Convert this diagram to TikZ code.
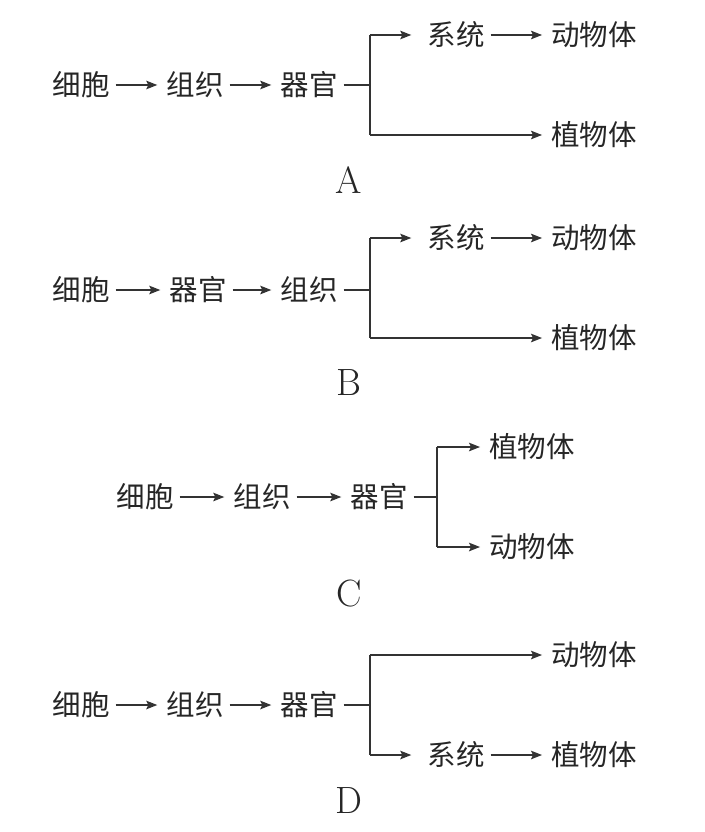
\documentclass[tikz,border=0pt]{standalone}
\usepackage{fontspec}
\newfontfamily\cjk{Noto Sans CJK SC}
\usetikzlibrary{arrows.meta}
\begin{document}
\begin{tikzpicture}[x=1pt,y=-1pt,
  txt/.style={font=\cjk\fontsize{28.5}{30}\selectfont, inner xsep=6pt, inner ysep=0pt, text=black!85},
  lbl/.style={font=\fontsize{38}{40}\selectfont, inner sep=0pt, text=black!85},
  ln/.style={line width=1.5pt, draw=black!80},
  arr/.style={ln, -{Stealth[length=11pt,width=8.5pt,inset=2pt]}, shorten >=3pt},
]
\useasboundingbox (0,0) rectangle (704,832);
% ---------- A ----------
\node[txt] (a1) at (81,85) {细胞};
\node[txt] (a2) at (195,85) {组织};
\node[txt] (a3) at (309,85) {器官};
\coordinate (aj) at (370,85);
\coordinate (at) at (370,35);
\coordinate (ab) at (370,135);
\node[txt] (a4) at (456,35) {系统};
\node[txt] (a5) at (594,35) {动物体};
\node[txt] (a6) at (594,135) {植物体};
\node[lbl] (la) at (349,180) {A};
\draw[arr] (a1) -- (a2);
\draw[arr] (a2) -- (a3);
\draw[ln] (a3.east) -- (aj);
\draw[ln] (at) -- (ab);
\draw[arr, shorten >=10pt] (at) -- (a4.west);
\draw[arr] (a4) -- (a5);
\draw[arr] (ab) -- (a6.west);
% ---------- B ----------
\node[txt] (b1) at (81,290) {细胞};
\node[txt] (b2) at (198,290) {器官};
\node[txt] (b3) at (309,290) {组织};
\coordinate (bj) at (370,290);
\coordinate (bt) at (370,238);
\coordinate (bb) at (370,338);
\node[txt] (b4) at (456,238) {系统};
\node[txt] (b5) at (594,238) {动物体};
\node[txt] (b6) at (594,338) {植物体};
\node[lbl] (lb) at (349,383) {B};
\draw[arr] (b1) -- (b2);
\draw[arr] (b2) -- (b3);
\draw[ln] (b3.east) -- (bj);
\draw[ln] (bt) -- (bb);
\draw[arr, shorten >=10pt] (bt) -- (b4.west);
\draw[arr] (b4) -- (b5);
\draw[arr] (bb) -- (b6.west);
% ---------- C ----------
\node[txt] (c1) at (145,497) {细胞};
\node[txt] (c2) at (262,497) {组织};
\node[txt] (c3) at (379,497) {器官};
\coordinate (cj) at (437,497);
\coordinate (ct) at (437,447);
\coordinate (cb) at (437,547);
\node[txt] (c4) at (532,447) {植物体};
\node[txt] (c5) at (532,547) {动物体};
\node[lbl] (lc) at (349,594) {C};
\draw[arr] (c1) -- (c2);
\draw[arr] (c2) -- (c3);
\draw[ln] (c3.east) -- (cj);
\draw[ln] (ct) -- (cb);
\draw[arr] (ct) -- (c4.west);
\draw[arr] (cb) -- (c5.west);
% ---------- D ----------
\node[txt] (d1) at (81,705) {细胞};
\node[txt] (d2) at (195,705) {组织};
\node[txt] (d3) at (309,705) {器官};
\coordinate (dj) at (370,705);
\coordinate (dt) at (370,655);
\coordinate (db) at (370,755);
\node[txt] (d4) at (594,655) {动物体};
\node[txt] (d5) at (456,755) {系统};
\node[txt] (d6) at (594,755) {植物体};
\node[lbl] (ld) at (349,801) {D};
\draw[arr] (d1) -- (d2);
\draw[arr] (d2) -- (d3);
\draw[ln] (d3.east) -- (dj);
\draw[ln] (dt) -- (db);
\draw[arr] (dt) -- (d4.west);
\draw[arr, shorten >=10pt] (db) -- (d5.west);
\draw[arr] (d5) -- (d6);
\end{tikzpicture}
\end{document}
